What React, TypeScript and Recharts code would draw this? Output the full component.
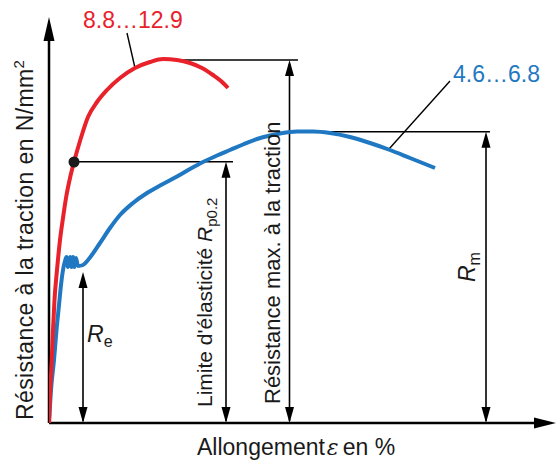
import React from 'react';
import { ComposedChart, Line, XAxis, YAxis, ReferenceLine, ReferenceDot } from 'recharts';

// strain / stress (arbitrary units, origin = axes corner)
const redStrain = [0, 1, 2.5, 4, 5.5, 8, 11, 14, 17, 21, 25, 31, 39, 48, 58, 71, 86, 101, 114, 128, 141, 153, 164, 172, 179];
const redStress = [0, 28, 58, 93, 123, 153, 183, 205, 225, 245, 261, 282, 306, 321, 333, 345, 355, 361, 364, 363, 360, 355, 348, 342, 335];

const blueStrain = [0, 2, 5, 7.5, 10, 12, 14, 16, 17.5, 19, 21, 22.5, 24, 25.5, 27, 29, 34, 39, 51, 61, 71, 84, 98, 113, 128, 141, 154, 168, 181, 194, 208, 221, 231, 248, 264, 281, 301, 321, 341, 361, 386];
const blueStress = [0, 33, 63, 93, 118, 138, 153, 162, 166, 156, 166, 156, 166, 156, 165, 157, 158, 163, 180, 195, 208, 220, 230, 238.5, 246.5, 254, 261, 267.5, 273, 278.5, 284, 287.5, 289.5, 291.5, 291.5, 290, 286, 280, 273, 265, 255];

// dimension arrows: Re, Rp0.2, Rm (max), Rm
const dimX = [34, 177, 240.5, 437];
const dimTop = [151, 261.3, 363, 291.3];

// horizontal extension lines
const extFrom = [116, 251, 25];
const extTo = [249, 441, 184];
const extY = [363, 291.3, 261.3];

const yieldPoint = { x: 25, y: 261 };

const X_MAX = 508;
const Y_MAX = 408;

const RED = '#e8212a';
const BLUE = '#1f78c1';
const FONT = '"Liberation Sans", Arial, sans-serif';

const redData = redStrain.map((x, i) => ({ x, y: redStress[i] }));
const blueData = blueStrain.map((x, i) => ({ x, y: blueStress[i] }));

type Dir = 'up' | 'down' | 'right';

const arrowHead = (dir: Dir, len: number, half: number) => (p: any) => {
  const { cx, cy } = p;
  let d = '';
  if (dir === 'up') d = `M${cx},${cy} L${cx - half},${cy + len} L${cx + half},${cy + len} Z`;
  if (dir === 'down') d = `M${cx},${cy} L${cx - half},${cy - len} L${cx + half},${cy - len} Z`;
  if (dir === 'right') d = `M${cx},${cy} L${cx - len},${cy - half} L${cx - len},${cy + half} Z`;
  return <path d={d} fill="#000" />;
};

const textShape = (content: React.ReactNode, opts: { rotate?: boolean; fill?: string; size?: number; spacing?: number } = {}) => (p: any) => {
  const { cx, cy } = p;
  return (
    <text
      x={cx}
      y={cy}
      fill={opts.fill || '#1a1a1a'}
      fontSize={opts.size || 23}
      fontFamily={FONT}
      letterSpacing={opts.spacing || 0}
      transform={opts.rotate ? `rotate(-90 ${cx} ${cy})` : undefined}
    >
      {content}
    </text>
  );
};

export default function App() {
  return (
    <div style={{ position: 'absolute', left: 0, top: 0, background: '#fff' }}>
      <ComposedChart width={557} height={464} margin={{ top: 15, right: 0, bottom: 41, left: 49 }}>
        <XAxis type="number" dataKey="x" domain={[0, X_MAX]} hide allowDataOverflow />
        <YAxis type="number" dataKey="y" domain={[0, Y_MAX]} hide allowDataOverflow />

        {/* axes */}
        <ReferenceLine segment={[{ x: 0, y: 0 }, { x: 0, y: 388 }]} stroke="#000" strokeWidth={2.5} ifOverflow="visible" />
        <ReferenceLine segment={[{ x: 0, y: 0 }, { x: 490, y: 0 }]} stroke="#000" strokeWidth={2.5} ifOverflow="visible" />
        <ReferenceDot x={0} y={406} ifOverflow="visible" shape={arrowHead('up', 24, 5.5)} />
        <ReferenceDot x={507} y={0} ifOverflow="visible" shape={arrowHead('right', 22, 5.5)} />

        {/* extension lines */}
        {extY.map((y, i) => (
          <ReferenceLine key={`ext${i}`} segment={[{ x: extFrom[i], y }, { x: extTo[i], y }]} stroke="#000" strokeWidth={1.6} ifOverflow="visible" />
        ))}

        {/* dimension arrows */}
        {dimX.map((x, i) => (
          <ReferenceLine key={`dim${i}`} segment={[{ x, y: 2 }, { x, y: dimTop[i] - 4 }]} stroke="#000" strokeWidth={1.6} ifOverflow="visible" />
        ))}
        {dimX.map((x, i) => (
          <ReferenceDot key={`up${i}`} x={x} y={dimTop[i]} ifOverflow="visible" shape={arrowHead('up', 16, 4.5)} />
        ))}
        {dimX.map((x, i) => (
          <ReferenceDot key={`dn${i}`} x={x} y={0} ifOverflow="visible" shape={arrowHead('down', 16, 4.5)} />
        ))}

        {/* leaders */}
        <ReferenceLine segment={[{ x: 78, y: 390 }, { x: 86, y: 355 }]} stroke="#000" strokeWidth={1.4} ifOverflow="visible" />
        <ReferenceLine segment={[{ x: 401, y: 342 }, { x: 340, y: 274 }]} stroke="#000" strokeWidth={1.4} ifOverflow="visible" />

        <Line data={blueData} dataKey="y" type="monotone" stroke={BLUE} strokeWidth={4} dot={false} isAnimationActive={false} />
        <Line data={redData} dataKey="y" type="monotone" stroke={RED} strokeWidth={4} dot={false} isAnimationActive={false} />

        <ReferenceDot x={yieldPoint.x} y={yieldPoint.y} r={5.5} fill="#1a1a1a" stroke="none" ifOverflow="visible" />

        {/* labels */}
        <ReferenceDot x={34} y={395} ifOverflow="visible" shape={textShape('8.8…12.9', { fill: RED })} />
        <ReferenceDot x={404} y={341} ifOverflow="visible" shape={textShape('4.6…6.8', { fill: BLUE })} />
        <ReferenceDot
          x={38}
          y={81}
          ifOverflow="visible"
          shape={textShape(
            <>
              <tspan fontStyle="italic">R</tspan>
              <tspan fontSize={16} dy={5}>e</tspan>
            </>
          )}
        />
        <ReferenceDot
          x={426}
          y={141}
          ifOverflow="visible"
          shape={textShape(
            <>
              <tspan fontStyle="italic">R</tspan>
              <tspan fontSize={16} dy={5}>m</tspan>
            </>,
            { rotate: true }
          )}
        />
        <ReferenceDot
          x={163}
          y={16}
          ifOverflow="visible"
          shape={textShape(
            <>
              {"Limite d'élasticité "}
              <tspan fontStyle="italic">R</tspan>
              <tspan fontSize={15} dy={5}>p0.2</tspan>
            </>,
            { rotate: true, size: 21 }
          )}
        />
        <ReferenceDot x={231} y={19} ifOverflow="visible" shape={textShape('Résistance max. à la traction', { rotate: true, size: 22 })} />
        <ReferenceDot
          x={-16}
          y={3}
          ifOverflow="visible"
          shape={textShape(
            <>
              {'Résistance à la traction en N/mm'}
              <tspan fontSize={15} dy={-9}>2</tspan>
            </>,
            { rotate: true, spacing: 0.4 }
          )}
        />
        <ReferenceDot
          x={148}
          y={-32}
          ifOverflow="visible"
          shape={textShape(
            <>
              {'Allongement'}
              <tspan fontStyle="italic" fontFamily='"DejaVu Serif", serif' fontSize={22} dx={2}>ε</tspan>
              <tspan dx={4}>en %</tspan>
            </>
          )}
        />
      </ComposedChart>
    </div>
  );
}
